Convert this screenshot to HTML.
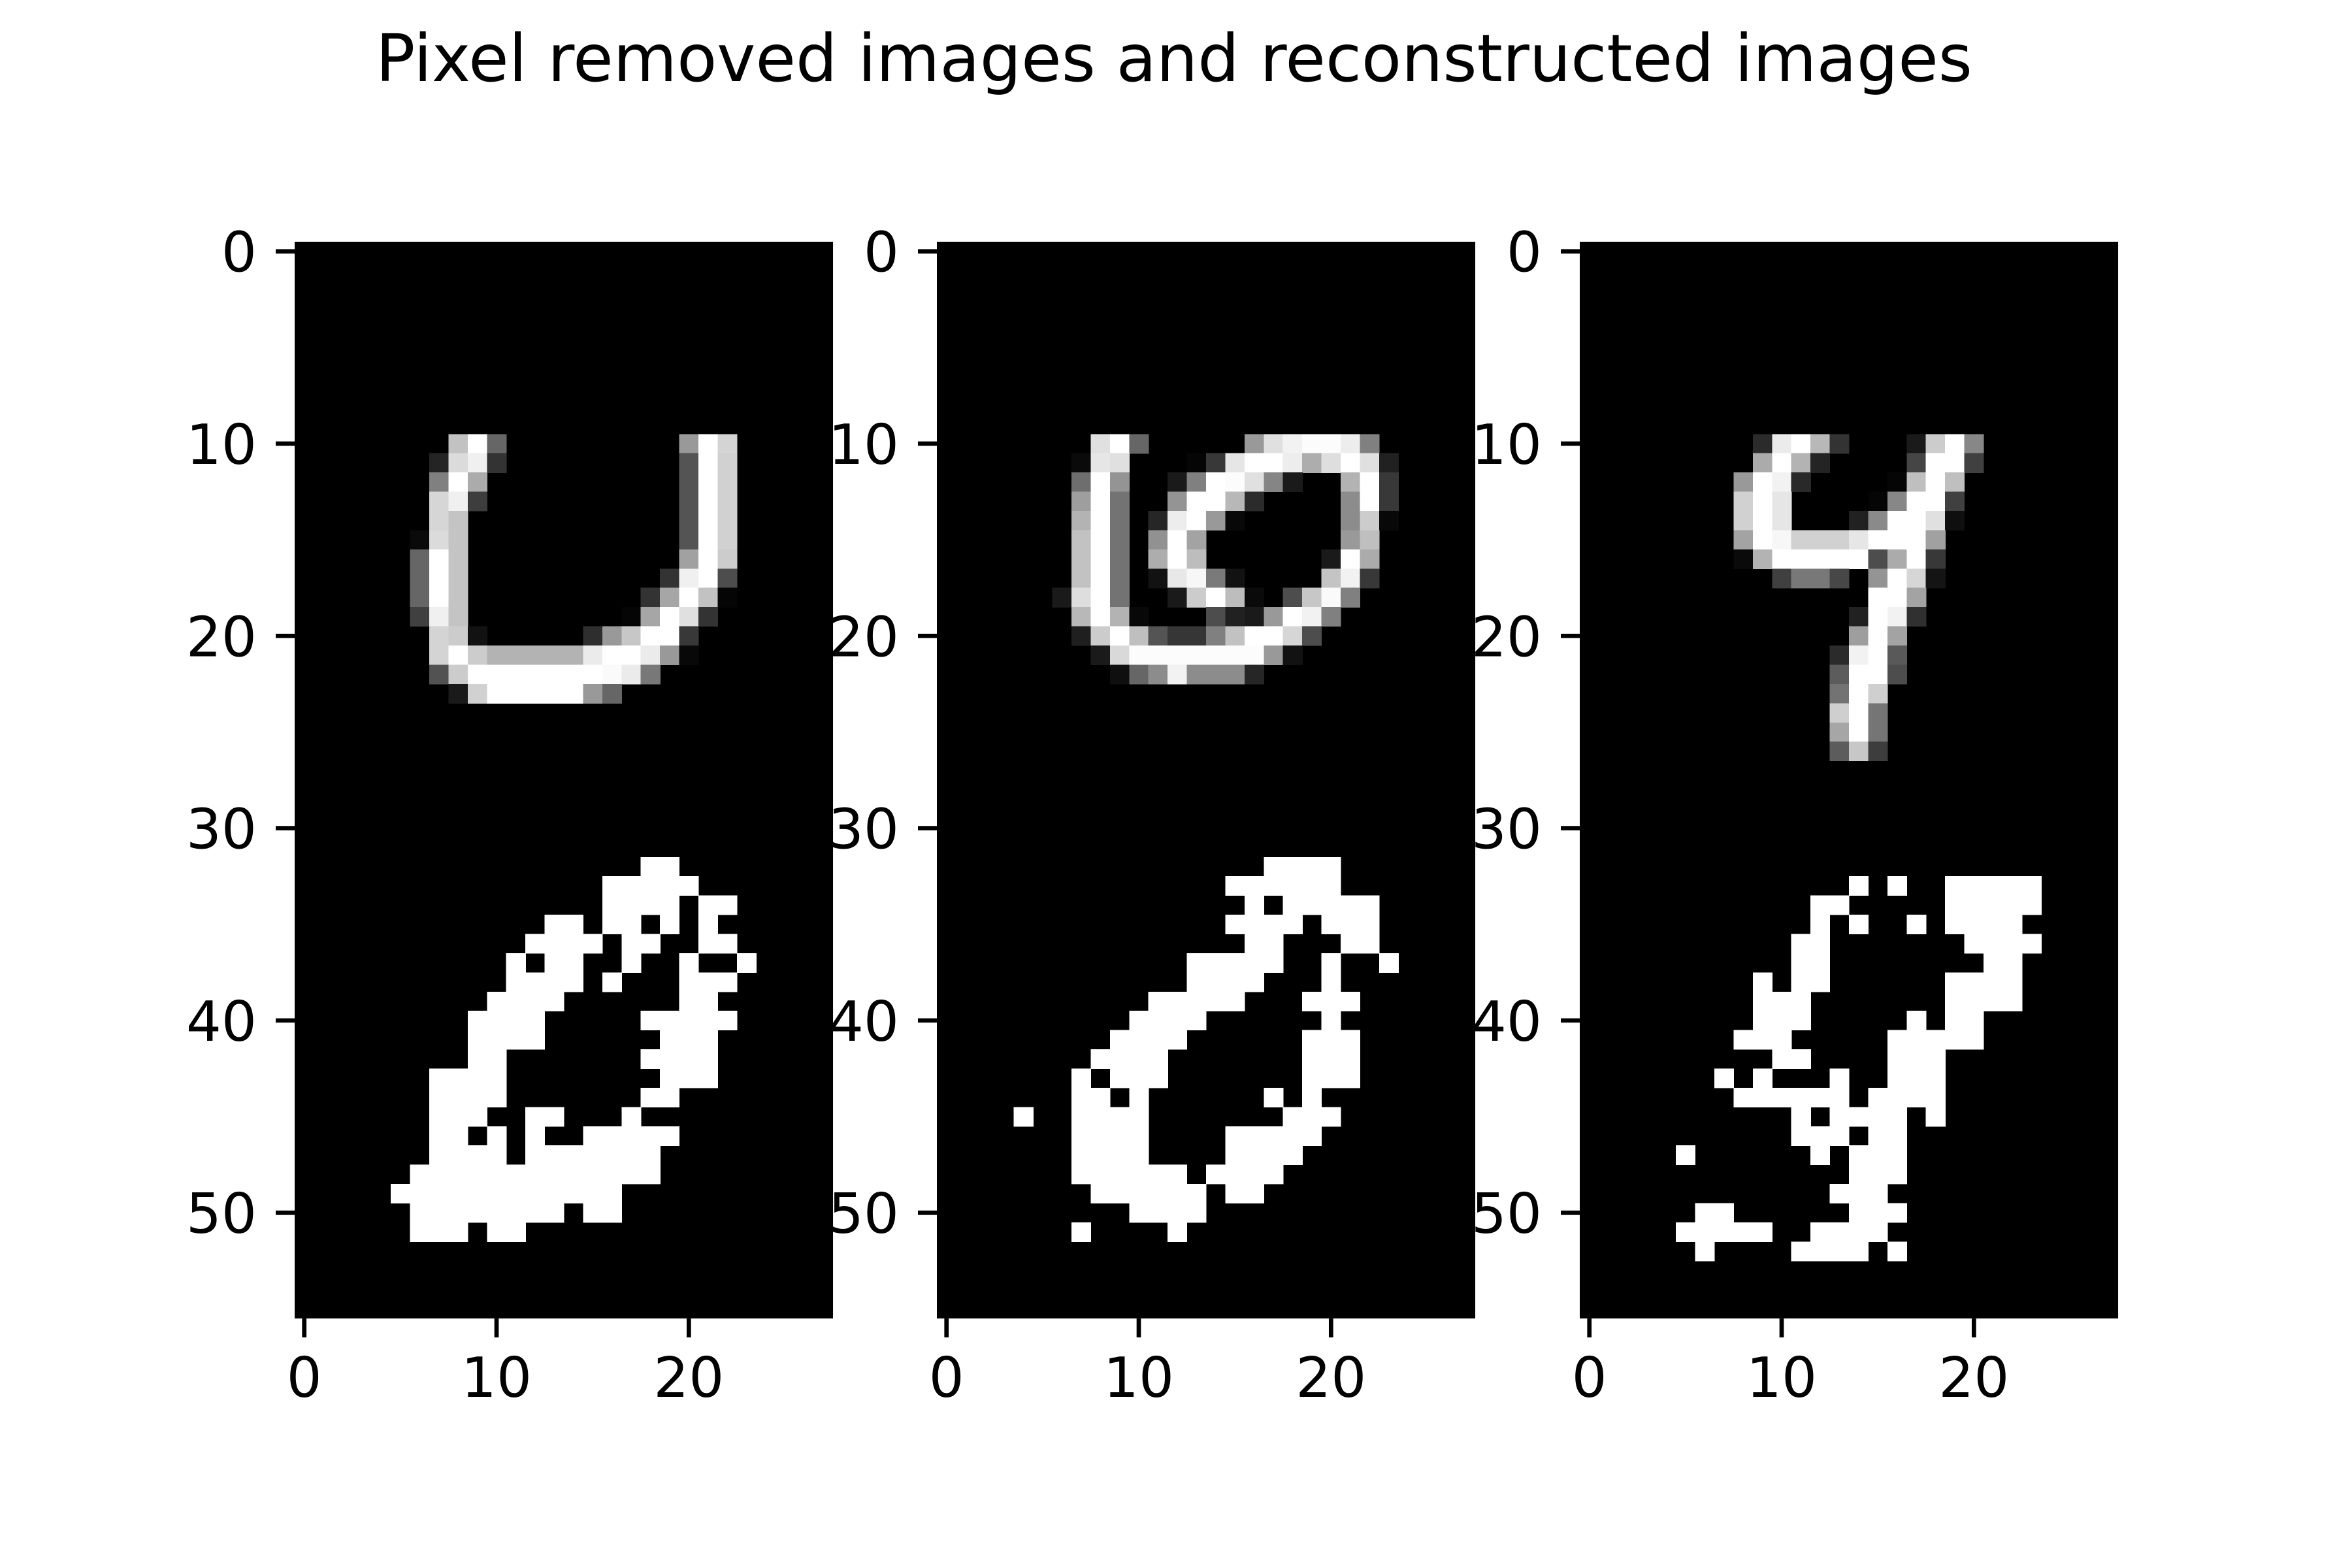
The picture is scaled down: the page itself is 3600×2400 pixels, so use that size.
<!DOCTYPE html>
<html><head><meta charset="utf-8"><style>
html,body{margin:0;padding:0;background:#fff;}
svg{display:block;}
text{font-family:"DejaVu Sans","Liberation Sans",sans-serif;fill:#000;}
</style></head><body>
<svg id="fig" width="3600" height="2400" viewBox="0 0 3600 2400" xmlns="http://www.w3.org/2000/svg">
<rect width="3600" height="2400" fill="#fff"/>
<text x="1797" y="124" font-size="100" text-anchor="middle">Pixel removed images and reconstructed images</text>
</svg>
<script>
// panel data: gray rows [row, startCol, values], binary runs [row, startCol, endCol]
const gray1 = [[10,8,[.76,1,.4]],[10,20,[.6,1,.83]],[11,7,[.14,.86,.94,.2]],[11,20,[.33,1,.82]],[12,7,[.5,1,.67]],[12,20,[.33,1,.82]],[13,7,[.84,.94,.24]],[13,20,[.33,1,.82]],[14,7,[.84,.77]],[14,20,[.33,1,.82]],[15,6,[.04,.86,.77]],[15,20,[.33,1,.82]],[16,6,[.4,1,.77]],[16,20,[.63,1,.8]],[17,6,[.4,1,.77]],[17,19,[.2,.94,1,.3]],[18,6,[.4,1,.77]],[18,18,[.2,.65,1,.76,.02]],[19,6,[.25,.94,.77]],[19,17,[.02,.65,1,.88,.2]],[20,7,[.83,.8,.07]],[20,15,[.18,.6,.78,1,1,.22]],[21,7,[.83,1,.8,.7,.7,.7,.7,.7,.92,1,1,.92,.6,.03]],[22,7,[.32,.8,1,1,1,1,1,1,1,.98,.92,.47]],[23,8,[.1,.82,1,1,1,1,1,.6,.4]]];
const bin1 = [[32,18,19],[33,16,20],[34,16,19],[34,21,22],[35,13,14],[35,16,17],[35,19,19],[35,21,21],[36,12,15],[36,17,18],[36,21,22],[37,11,11],[37,13,14],[37,17,17],[37,20,20],[37,23,23],[38,11,14],[38,16,16],[38,20,22],[39,10,13],[39,20,21],[40,9,12],[40,18,22],[41,9,12],[41,19,21],[42,9,10],[42,18,21],[43,7,10],[43,19,21],[44,7,10],[44,18,19],[45,7,9],[45,12,13],[45,17,17],[46,7,8],[46,10,10],[46,12,12],[46,15,19],[47,7,10],[47,12,18],[48,6,18],[49,5,16],[50,6,13],[50,15,16],[51,6,8],[51,10,11]];
const gray2 = [[10,8,[.88,1,.4]],[10,16,[.6,.88,.95,.99,.99,.93,.5]],[11,7,[.04,.9,.88]],[11,13,[.02,.22,.9,1,1,.93,.68,.87,1,.88,.13]],[12,7,[.43,1,.58]],[12,12,[.1,.5,1,.99,.88,.52,.1]],[12,21,[.7,1,.22]],[13,7,[.62,1,.45]],[13,12,[.58,1,1,.72,.17]],[13,21,[.55,1,.22]],[14,7,[.7,1,.45]],[14,11,[.15,.93,1,.6,.03]],[14,21,[.55,.8,.03]],[15,7,[.76,1,.45]],[15,11,[.57,1,.64]],[15,21,[.6,.75]],[16,7,[.76,1,.45]],[16,11,[.68,1,.74]],[16,20,[.1,1,.67]],[17,7,[.76,1,.45]],[17,11,[.07,.91,.97,.48,.07]],[17,20,[.77,.95,.22]],[18,6,[.1,.87,1,.45]],[18,12,[.1,.8,1,.74,.04]],[18,18,[.3,.78,.98,.5]],[19,7,[.72,1,.7,.03]],[19,14,[.3,.13,.1,.6,1,.95,.5]],[20,7,[.12,.8,1,.75,.33,.21,.21,.5,.76,1,1,.84,.3]],[21,8,[.1,.85,.99,.99,.99,.99,.99,.99,.99,.6,.07]],[22,9,[.06,.4,.55,.95,.55,.55,.55,.15]]];
const bin2 = [[32,17,20],[33,15,20],[34,16,16],[34,18,22],[35,15,18],[35,20,22],[36,16,17],[36,21,22],[37,13,17],[37,20,20],[37,23,23],[38,13,16],[38,20,20],[39,11,15],[39,19,21],[40,10,13],[40,20,20],[41,9,12],[41,19,21],[42,8,11],[42,19,21],[43,7,7],[43,9,11],[43,19,21],[44,7,8],[44,10,10],[44,17,17],[44,19,19],[45,4,4],[45,7,10],[45,18,20],[46,7,10],[46,15,19],[47,7,10],[47,15,18],[48,7,12],[48,14,17],[49,8,13],[49,15,16],[50,10,13],[51,7,7],[51,12,12]];
const gray3 = [[10,9,[.17,.92,1,.72,.2]],[10,17,[.1,.8,1,.53]],[11,9,[.67,1,.7,.14]],[11,17,[.27,1,1,.25]],[12,8,[.6,1,.95,.16]],[12,16,[.02,.75,1,.75]],[13,8,[.82,1,.9]],[13,15,[.02,.53,1,1,.25]],[14,8,[.82,1,.9]],[14,14,[.13,.54,1,1,.88,.06]],[15,8,[.64,1,.97,.82,.82,.82,.9,1,1,1,.63]],[16,8,[.04,.7,1,1,1,1,1,.3,.67,1,.22]],[17,10,[.25,.47,.47,.28]],[17,15,[.58,1,.84,.08]],[18,15,[1,1,.64]],[19,14,[.13,1,.95,.19]],[20,14,[.62,1,.64]],[21,13,[.17,.95,1,.35]],[22,13,[.36,1,1,.3]],[23,13,[.45,1,.81]],[24,13,[.81,1,.46]],[25,13,[.65,1,.46]],[26,13,[.36,.78,.24]]];
const bin3 = [[33,14,14],[33,16,16],[33,19,23],[34,12,13],[34,19,23],[35,12,12],[35,14,14],[35,17,17],[35,19,22],[36,11,12],[36,20,23],[37,11,12],[37,21,22],[38,9,9],[38,11,12],[38,19,22],[39,9,11],[39,19,22],[40,9,11],[40,17,17],[40,19,20],[41,8,10],[41,16,20],[42,10,11],[42,16,18],[43,7,7],[43,9,9],[43,13,13],[43,16,18],[44,8,13],[44,15,18],[45,11,11],[45,13,16],[45,18,18],[46,11,13],[46,15,16],[47,5,5],[47,12,12],[47,14,16],[48,14,16],[49,13,15],[50,6,7],[50,14,16],[51,5,9],[51,12,15],[52,6,6],[52,11,14],[52,16,16]];
const xTickLabels = [0,10,20];
const yTickLabels = [0,10,20,30,40,50];
const nCols = 28, nRows = 56;

const NS = "http://www.w3.org/2000/svg";
const svg = document.getElementById('fig');
const panelLefts = [451, 1434, 2418];
const TOP = 370, CELL = 29.43;
function mk(tag, attrs, parent){const e=document.createElementNS(NS,tag);for(const k in attrs)e.setAttribute(k,attrs[k]);parent.appendChild(e);return e;}

const panels = [[gray1,bin1],[gray2,bin2],[gray3,bin3]];
panels.forEach(function(p, i){
  const L = panelLefts[i];
  const xs = c => L + c*CELL;
  const ys = r => TOP + r*CELL;
  const g = mk('g', {}, svg);
  
  
  const bg = mk('rect', {x:L, y:TOP, width:nCols*CELL, height:nRows*CELL, fill:'#000'}, g);
  
  
  p[0].forEach(function(row){
    row[2].forEach(function(v, k){
      const gv = Math.round(v*255);
      const r = mk('rect', {x:xs(row[1]+k), y:ys(row[0]), width:CELL+0.6, height:CELL+0.6, fill:'rgb('+gv+','+gv+','+gv+')', 'shape-rendering':'crispEdges'}, g);
      
      
    });
  });
  p[1].forEach(function(run){
    const r = mk('rect', {x:xs(run[1]), y:ys(run[0]), width:(run[2]-run[1]+1)*CELL+0.6, height:CELL+0.6, fill:'#fff', 'shape-rendering':'crispEdges'}, g);
    
    
  });
  const bottom = TOP + nRows*CELL;
  xTickLabels.forEach(function(t){
    const cx = xs(t) + CELL/2;
    const tk = mk('line', {x1:cx, x2:cx, y1:bottom, y2:bottom+29, stroke:'#000', 'stroke-width':6.7}, g);
    
    
    const tx = mk('text', {x:cx, y:bottom+120, 'font-size':85, 'text-anchor':'middle'}, g);
    tx.textContent = t;
    
    
  });
  yTickLabels.forEach(function(t){
    const cy = ys(t) + CELL/2;
    const tk = mk('line', {x1:L-29, x2:L, y1:cy, y2:cy, stroke:'#000', 'stroke-width':6.7}, g);
    
    
    const tx = mk('text', {x:L-58, y:cy+31, 'font-size':85, 'text-anchor':'end'}, g);
    tx.textContent = t;
    
    
  });
});
</script>
</body></html>
